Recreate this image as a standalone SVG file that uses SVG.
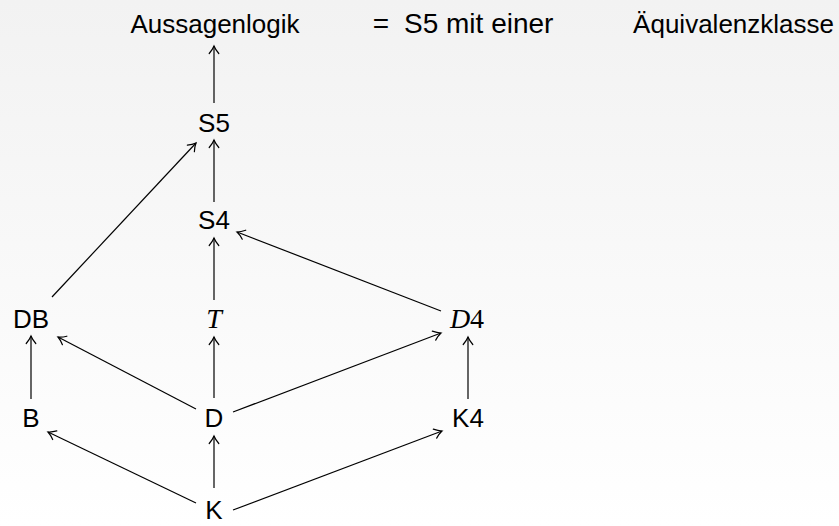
<svg xmlns="http://www.w3.org/2000/svg" width="839" height="526" viewBox="0 0 839 526">
<defs>
<linearGradient id="bg" x1="0" y1="0" x2="0" y2="1">
<stop offset="0" stop-color="#f2f2f2"/>
<stop offset="1" stop-color="#ffffff"/>
</linearGradient>
<marker id="ah" markerUnits="userSpaceOnUse" markerWidth="12" markerHeight="12" viewBox="-9 -6 10 12" refX="0" refY="0" orient="auto">
<path d="M-7.5,-4.8 C-4.5,-2.2 -1.5,-0.6 0,0 C-1.5,0.6 -4.5,2.2 -7.5,4.8" fill="none" stroke="#000" stroke-width="1.2" stroke-linecap="round"/>
</marker>
<style>
.t{font-family:"Liberation Sans","DejaVu Sans",sans-serif;font-size:26px;fill:#000;text-anchor:middle}
.ts{font-family:"Liberation Sans","DejaVu Sans",sans-serif;font-size:28px;fill:#000;text-anchor:start}
.te{font-family:"Liberation Sans","DejaVu Sans",sans-serif;font-size:26px;fill:#000;text-anchor:end}
.m{font-family:"Liberation Serif","DejaVu Serif",serif;font-size:28px;fill:#000;text-anchor:middle}
.c line{stroke:#000;stroke-width:1.2;marker-end:url(#ah)}
</style>
</defs>
<rect width="839" height="526" fill="url(#bg)"/>
<g id="Aussagenlogik"><text class="t" x="215" y="33">Aussagenlogik</text></g>
<g id="note"><text class="t" x="381" y="33" style="font-size:28px">=</text><text class="ts" x="404" y="33">S5 mit einer</text><text class="te" x="834" y="33">Äquivalenzklasse</text></g>
<g id="S5"><text class="t" x="214" y="132">S5</text></g>
<g id="S4"><text class="t" x="214" y="229">S4</text></g>
<g id="T"><text class="m" x="214" y="328" font-style="italic">T</text></g>
<g id="DB"><text class="t" x="31" y="328">DB</text></g>
<g id="D4"><text class="m" x="467" y="328"><tspan font-style="italic">D</tspan>4</text></g>
<g id="B"><text class="t" x="31" y="427">B</text></g>
<g id="D"><text class="t" x="214" y="427">D</text></g>
<g id="K4"><text class="t" x="468" y="427">K4</text></g>
<g id="K"><text class="t" x="214" y="519">K</text></g>
<g id="connectors" class="c">
<line x1="196" y1="503" x2="48" y2="432"/>
<line x1="214" y1="488" x2="214" y2="436"/>
<line x1="233" y1="510" x2="442" y2="431"/>
<line x1="196" y1="409" x2="58" y2="337"/>
<line x1="214" y1="398" x2="214" y2="337"/>
<line x1="233" y1="412" x2="441" y2="333"/>
<line x1="31" y1="399" x2="31" y2="336"/>
<line x1="468" y1="399" x2="468" y2="337"/>
<line x1="214" y1="300" x2="214" y2="238"/>
<line x1="441" y1="311" x2="237" y2="232"/>
<line x1="52" y1="297" x2="196" y2="143"/>
<line x1="214" y1="202" x2="214" y2="140"/>
<line x1="214" y1="103" x2="214" y2="46"/>
</g>
</svg>
